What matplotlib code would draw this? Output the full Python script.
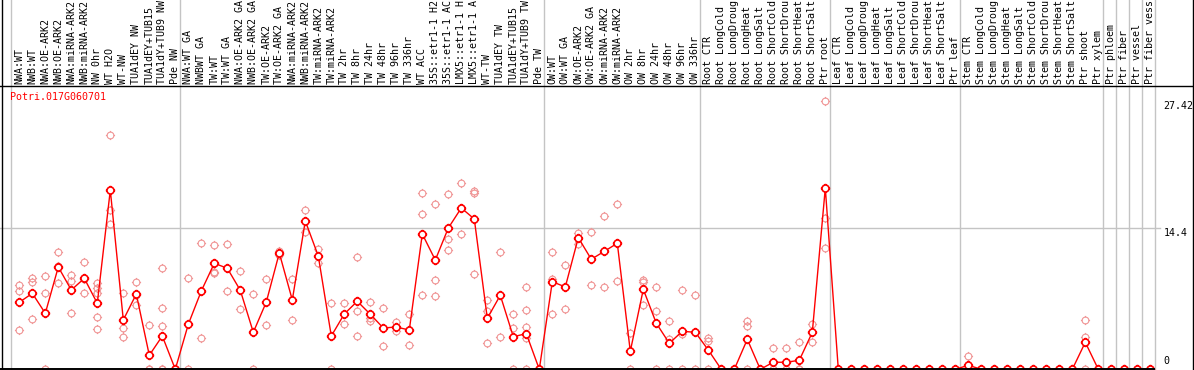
import matplotlib
matplotlib.use("Agg")
import matplotlib.pyplot as plt
import matplotlib.transforms as mtransforms
from matplotlib.path import Path
from matplotlib.lines import Line2D

# nombres de las muestras (cortados a 14 caracteres como en el original)
labels = [
    "NWA:WT", "NWB:WT", "NWA:OE-ARK2", "NWB:OE-ARK2", "NWA:miRNA-ARK2", "NWB:miRNA-ARK2",
    "NW 0hr", "WT H2O", "WT-NW", "TUA1dEY NW", "TUA1dEY+TUB15", "TUA1dY+TUB9 NW", "Pde NW",
    "NWA:WT GA", "NWBWT GA", "TW:WT", "TW:WT GA", "NWA:OE-ARK2 GA", "NWB:OE-ARK2 GA",
    "TW:OE-ARK2", "TW:OE-ARK2 GA", "NWA:miRNA-ARK2", "NWB:miRNA-ARK2", "TW:miRNA-ARK2",
    "TW:miRNA-ARK2", "TW 2hr", "TW 8hr", "TW 24hr", "TW 48hr", "TW 96hr", "TW 336hr",
    "WT ACC", "35S::etr1-1 H2", "35S::etr1-1 AC", "LMX5::etr1-1 H", "LMX5::etr1-1 A",
    "WT-TW", "TUA1dEY TW", "TUA1dEY+TUB15", "TUA1dY+TUB9 TW", "Pde TW",
    "OW:WT", "OW:WT GA", "OW:OE-ARK2", "OW:OE-ARK2 GA", "OW:miRNA-ARK2", "OW:miRNA-ARK2",
    "OW 2hr", "OW 8hr", "OW 24hr", "OW 48hr", "OW 96hr", "OW 336hr",
    "Root CTR", "Root LongCold", "Root LongDroug", "Root LongHeat", "Root LongSalt",
    "Root ShortCold", "Root ShortDrou", "Root ShortHeat", "Root ShortSalt", "Ptr root",
    "Leaf CTR", "Leaf LongCold", "Leaf LongDroug", "Leaf LongHeat", "Leaf LongSalt",
    "Leaf ShortCold", "Leaf ShortDrou", "Leaf ShortHeat", "Leaf ShortSalt", "Ptr leaf",
    "Stem CTR", "Stem LongCold", "Stem LongDroug", "Stem LongHeat", "Stem LongSalt",
    "Stem ShortCold", "Stem ShortDrou", "Stem ShortHeat", "Stem ShortSalt", "Ptr shoot",
    "Ptr xylem", "Ptr phloem", "Ptr fiber", "Ptr vessel", "Ptr fiber vess",
]

# valores medios (línea roja)
means = [
    6.84, 7.76, 5.72, 10.45, 8.10, 9.29, 6.74, 18.31, 5.04, 7.69, 1.43, 3.40, 0,
    4.60, 8.00, 10.83, 10.32, 8.07, 3.78, 6.87, 11.88, 7.08, 15.15, 11.57, 3.40, 5.65,
    6.95, 5.62, 4.22, 4.32, 4.01, 13.82, 11.16, 14.43, 16.48, 15.35, 5.21, 7.56, 3.33,
    3.64, 0,
    8.95, 8.41, 13.44, 11.24, 12.05, 12.87, 1.84, 8.17, 4.70, 2.66, 3.88, 3.78,
    1.97, 0, 0, 3.06, 0, 0.72, 0.72, 0.92, 3.78, 18.52,
    0, 0, 0, 0, 0, 0, 0, 0, 0, 0,
    0.41, 0, 0, 0, 0, 0, 0, 0, 0, 2.76,
    0, 0, 0, 0, 0,
]

# réplicas (círculos rosados)
reps = [
    [8.61, 7.97, 4.01], [9.36, 8.88, 5.14], [9.53, 7.76, 0], [11.95, 8.78, 10.6],
    [9.63, 9.02, 5.75], [10.93, 7.76, 9.2], [8.85, 8.27, 7.76, 5.31, 4.09],
    [23.93, 16.27, 14.81], [7.76, 4.19, 3.27], [8.88, 6.57, 7.6], [4.49, 0, 0],
    [10.32, 6.23, 4.39, 0, 0], [0, 0, 0],
    [9.29, 0], [12.87, 3.17], [12.67, 9.97, 9.87], [12.80, 7.97], [10.07, 6.13],
    [7.66, 0], [9.19, 4.49], [12.11, 11.65], [9.19, 5.04], [16.24, 13.99],
    [12.29, 10.86], [6.74, 0], [6.74, 4.63], [11.47, 5.96, 3.37], [6.84, 5.21, 4.97],
    [6.23, 2.38], [4.80, 3.88], [5.65, 2.45], [18.01, 15.83, 7.59], [16.88, 9.09, 7.49],
    [17.91, 13.31, 12.15], [19.03, 13.82], [18.21, 18.01, 9.73], [7.05, 5.99, 2.69],
    [11.95, 3.27], [5.65, 4.19, 0], [8.41, 6.03, 4.29, 3.20, 0], [0, 0],
    [11.95, 9.19, 5.65], [10.65, 6.13], [13.89, 12.77], [13.99, 8.58], [15.63, 8.38],
    [16.85, 8.99], [3.68, 0], [9.12, 8.88, 6.54], [8.38, 5.92, 0], [4.90, 3.06, 0],
    [8.07, 3.58, 0], [7.56, 0],
    [3.17, 2.92, 0], [0, 0], [0, 0], [4.90, 4.39, 0], [0, 0], [2.15, 0, 0],
    [2.15, 0, 0], [2.76, 0, 0], [4.60, 2.76], [27.42, 15.49, 12.36],
    [0], [0], [0], [0], [0], [0], [0], [0], [0], [0],
    [1.33, 0, 0], [0], [0], [0], [0], [0], [0], [0], [0], [5.00, 3.27, 0],
    [0], [0], [0], [0], [0],
]

# inicio de cada grupo (líneas verticales grises)
group_starts = [0, 13, 41, 53, 63, 73, 84, 85, 86, 87, 88]
yticks = [27.42, 14.4]
gene = "Potri.017G060701"

mono = "DejaVu Sans Mono"
rojo = "#ff0000"
rosa = "#f09494"
gris = "#c4c4c4"

# marcador: círculo con cuatro rayitas
circ = Path.unit_circle()
ticks = [Path([(0, 1), (0, 1.35)]), Path([(0, -1), (0, -1.35)]),
         Path([(1, 0), (1.35, 0)]), Path([(-1, 0), (-1.35, 0)])]
marca = Path.make_compound_path(circ, *ticks)

W, H = 1194, 370
fig = plt.figure(figsize=(W / 100, H / 100), dpi=100)
fig.patch.set_facecolor("white")
top_px = 86
ax = fig.add_axes([0, 0, 1, (H - top_px) / H])
ppu = 9.79  # pixeles por unidad
ax.set_xlim(-19.3 / 13, (W - 19.3) / 13)
ax.set_ylim(-0.7 / ppu, (H - top_px - 0.7) / ppu)
ax.axis("off")

# líneas verticales
for g in group_starts:
    ax.axvline(g - 0.66, 0, H / (H - top_px) + 0.01, clip_on=False, color=gris, lw=1.0, zorder=0)

# línea horizontal en 14.4
ax.plot([-1.6, 87.75], [14.4, 14.4], color=gris, lw=1.0, zorder=0)

# réplicas
for i, r in enumerate(reps):
    ax.plot([i] * len(r), r, linestyle="none", marker=marca, markersize=6.6,
            markerfacecolor="none", markeredgecolor=rosa, markeredgewidth=0.8, zorder=2)

# medias
ax.plot(range(len(means)), means, color=rojo, lw=1.0, zorder=3)
ax.plot(range(len(means)), means, linestyle="none", marker=marca, markersize=6.8,
        markerfacecolor="white", markeredgecolor=rojo, markeredgewidth=1.2, zorder=4)

# etiquetas de las muestras
tr = mtransforms.blended_transform_factory(ax.transData, fig.transFigure)
for i, s in enumerate(labels):
    ax.text(i, (H - 84) / H, s, transform=tr, rotation=90, ha="center", va="bottom",
            fontfamily=mono, fontsize=7.2, color="black", clip_on=False)

# valores del eje y a la derecha
for v in yticks:
    ax.text(88.0, v, f"{v:g}", ha="left", va="top", fontfamily=mono, fontsize=7.2, clip_on=False)
ax.text(88.0, 0.35, "0", ha="left", va="bottom", fontfamily=mono, fontsize=7.2, clip_on=False)

# nombre del gen
ax.text(-0.75, (369.3 - 97.5) / ppu, gene, ha="left", va="center", color=rojo,
        fontfamily=mono, fontsize=7.2)

# marco negro
def linea(x0, y0, x1, y1, lw=1.0):
    fig.add_artist(Line2D([x0 / W, x1 / W], [1 - y0 / H, 1 - y1 / H], color="black", lw=lw))

linea(0, top_px - 0.5, W, top_px - 0.5)
linea(1.5, 0, 1.5, H)
linea(W - 1.5, 0, W - 1.5, H)
linea(0, 369.3, W - 40, 369.3, lw=1.4)

fig.savefig("out.png", dpi=100, facecolor="white")
